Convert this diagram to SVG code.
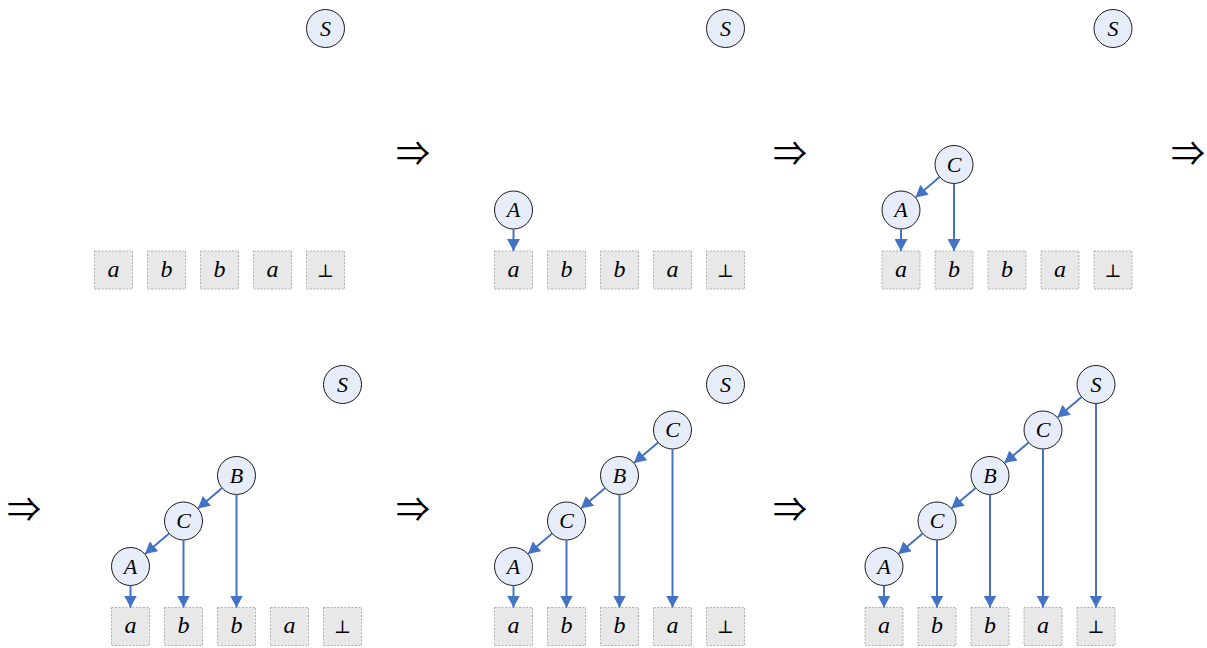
<svg xmlns="http://www.w3.org/2000/svg" width="1207" height="648" viewBox="0 0 1207 648">
  <defs>
    <style>
      .node circle { fill: #e7edf8; stroke: #1a1a1a; stroke-width: 1; }
      .node text { font-family: "Liberation Serif", "Times New Roman", serif; font-style: italic; font-size: 22px; text-anchor: middle; fill: #000; }
      .tok rect { fill: #e8e8e8; stroke: #b0b0b0; stroke-width: 1; stroke-dasharray: 2 1.5; }
      .tok text { font-family: "Liberation Serif", "Times New Roman", serif; font-style: italic; font-size: 24px; text-anchor: middle; fill: #000; }
      .tok text.bot { font-style: normal; font-family: "DejaVu Serif", "Liberation Serif", serif; font-size: 18px; }
      .edges line { stroke: #4472c4; stroke-width: 2; fill: none; marker-end: url(#head); }
      .step { font-family: "Noto Sans CJK JP", "DejaVu Serif", sans-serif; font-size: 34px; text-anchor: middle; fill: #000; }
    </style>
    <marker id="head" markerUnits="userSpaceOnUse" markerWidth="13" markerHeight="13" refX="12" refY="6.5" orient="auto">
      <path d="M0,0 L12,6.5 L0,13 Z" fill="#4472c4"/>
    </marker>
  </defs>

  <!-- derivation steps -->
  <g id="steps">
    <text class="step" x="413" y="166">⇒</text>
    <text class="step" x="790" y="166">⇒</text>
    <text class="step" x="1188" y="166">⇒</text>
    <text class="step" x="24" y="522">⇒</text>
    <text class="step" x="413" y="522">⇒</text>
    <text class="step" x="790" y="522">⇒</text>
  </g>

  <!-- ===== Step 1 ===== -->
  <g id="p1-S" class="node"><circle cx="325.5" cy="28.5" r="19"/><text x="325.5" y="35.5">S</text></g>
  <g id="p1-t1" class="tok"><rect x="94.5" y="251" width="38" height="38"/><text x="113.5" y="276.5">a</text></g>
  <g id="p1-t2" class="tok"><rect x="147.5" y="251" width="38" height="38"/><text x="166.5" y="276.5">b</text></g>
  <g id="p1-t3" class="tok"><rect x="200.5" y="251" width="38" height="38"/><text x="219.5" y="276.5">b</text></g>
  <g id="p1-t4" class="tok"><rect x="253.5" y="251" width="38" height="38"/><text x="272.5" y="276.5">a</text></g>
  <g id="p1-t5" class="tok"><rect x="306.5" y="251" width="38" height="38"/><text class="bot" x="325.5" y="276.5">⊥</text></g>

  <!-- ===== Step 2 ===== -->
  <g id="p2-S" class="node"><circle cx="725.5" cy="28.5" r="19"/><text x="725.5" y="35.5">S</text></g>
  <g id="p2-A" class="node"><circle cx="513.5" cy="210" r="19"/><text x="513.5" y="217">A</text></g>
  <g id="p2-t1" class="tok"><rect x="494.5" y="251" width="38" height="38"/><text x="513.5" y="276.5">a</text></g>
  <g id="p2-t2" class="tok"><rect x="547.5" y="251" width="38" height="38"/><text x="566.5" y="276.5">b</text></g>
  <g id="p2-t3" class="tok"><rect x="600.5" y="251" width="38" height="38"/><text x="619.5" y="276.5">b</text></g>
  <g id="p2-t4" class="tok"><rect x="653.5" y="251" width="38" height="38"/><text x="672.5" y="276.5">a</text></g>
  <g id="p2-t5" class="tok"><rect x="706.5" y="251" width="38" height="38"/><text class="bot" x="725.5" y="276.5">⊥</text></g>

  <!-- ===== Step 3 ===== -->
  <g id="p3-S" class="node"><circle cx="1113" cy="28.5" r="19"/><text x="1113" y="35.5">S</text></g>
  <g id="p3-C" class="node"><circle cx="954" cy="164.5" r="19"/><text x="954" y="171.5">C</text></g>
  <g id="p3-A" class="node"><circle cx="901" cy="210" r="19"/><text x="901" y="217">A</text></g>
  <g id="p3-t1" class="tok"><rect x="882" y="251" width="38" height="38"/><text x="901" y="276.5">a</text></g>
  <g id="p3-t2" class="tok"><rect x="935" y="251" width="38" height="38"/><text x="954" y="276.5">b</text></g>
  <g id="p3-t3" class="tok"><rect x="988" y="251" width="38" height="38"/><text x="1007" y="276.5">b</text></g>
  <g id="p3-t4" class="tok"><rect x="1041" y="251" width="38" height="38"/><text x="1060" y="276.5">a</text></g>
  <g id="p3-t5" class="tok"><rect x="1094" y="251" width="38" height="38"/><text class="bot" x="1113" y="276.5">⊥</text></g>

  <!-- ===== Step 4 ===== -->
  <g id="p4-S" class="node"><circle cx="342.5" cy="384.5" r="19"/><text x="342.5" y="391.5">S</text></g>
  <g id="p4-B" class="node"><circle cx="236.5" cy="475.5" r="19"/><text x="236.5" y="482.5">B</text></g>
  <g id="p4-C" class="node"><circle cx="183.5" cy="521" r="19"/><text x="183.5" y="528">C</text></g>
  <g id="p4-A" class="node"><circle cx="130.5" cy="566.5" r="19"/><text x="130.5" y="573.5">A</text></g>
  <g id="p4-t1" class="tok"><rect x="111.5" y="607.5" width="38" height="38"/><text x="130.5" y="633">a</text></g>
  <g id="p4-t2" class="tok"><rect x="164.5" y="607.5" width="38" height="38"/><text x="183.5" y="633">b</text></g>
  <g id="p4-t3" class="tok"><rect x="217.5" y="607.5" width="38" height="38"/><text x="236.5" y="633">b</text></g>
  <g id="p4-t4" class="tok"><rect x="270.5" y="607.5" width="38" height="38"/><text x="289.5" y="633">a</text></g>
  <g id="p4-t5" class="tok"><rect x="323.5" y="607.5" width="38" height="38"/><text class="bot" x="342.5" y="633">⊥</text></g>

  <!-- ===== Step 5 ===== -->
  <g id="p5-S" class="node"><circle cx="725.5" cy="384.5" r="19"/><text x="725.5" y="391.5">S</text></g>
  <g id="p5-C2" class="node"><circle cx="672.5" cy="430" r="19"/><text x="672.5" y="437">C</text></g>
  <g id="p5-B" class="node"><circle cx="619.5" cy="475.5" r="19"/><text x="619.5" y="482.5">B</text></g>
  <g id="p5-C1" class="node"><circle cx="566.5" cy="521" r="19"/><text x="566.5" y="528">C</text></g>
  <g id="p5-A" class="node"><circle cx="513.5" cy="566.5" r="19"/><text x="513.5" y="573.5">A</text></g>
  <g id="p5-t1" class="tok"><rect x="494.5" y="607.5" width="38" height="38"/><text x="513.5" y="633">a</text></g>
  <g id="p5-t2" class="tok"><rect x="547.5" y="607.5" width="38" height="38"/><text x="566.5" y="633">b</text></g>
  <g id="p5-t3" class="tok"><rect x="600.5" y="607.5" width="38" height="38"/><text x="619.5" y="633">b</text></g>
  <g id="p5-t4" class="tok"><rect x="653.5" y="607.5" width="38" height="38"/><text x="672.5" y="633">a</text></g>
  <g id="p5-t5" class="tok"><rect x="706.5" y="607.5" width="38" height="38"/><text class="bot" x="725.5" y="633">⊥</text></g>

  <!-- ===== Step 6 ===== -->
  <g id="p6-S" class="node"><circle cx="1096" cy="384.5" r="19"/><text x="1096" y="391.5">S</text></g>
  <g id="p6-C2" class="node"><circle cx="1043" cy="430" r="19"/><text x="1043" y="437">C</text></g>
  <g id="p6-B" class="node"><circle cx="990" cy="475.5" r="19"/><text x="990" y="482.5">B</text></g>
  <g id="p6-C1" class="node"><circle cx="937" cy="521" r="19"/><text x="937" y="528">C</text></g>
  <g id="p6-A" class="node"><circle cx="884" cy="566.5" r="19"/><text x="884" y="573.5">A</text></g>
  <g id="p6-t1" class="tok"><rect x="865" y="607.5" width="38" height="38"/><text x="884" y="633">a</text></g>
  <g id="p6-t2" class="tok"><rect x="918" y="607.5" width="38" height="38"/><text x="937" y="633">b</text></g>
  <g id="p6-t3" class="tok"><rect x="971" y="607.5" width="38" height="38"/><text x="990" y="633">b</text></g>
  <g id="p6-t4" class="tok"><rect x="1024" y="607.5" width="38" height="38"/><text x="1043" y="633">a</text></g>
  <g id="p6-t5" class="tok"><rect x="1077" y="607.5" width="38" height="38"/><text class="bot" x="1096" y="633">⊥</text></g>

  <!-- connectors: diagonal edges run centre-to-centre, trimmed by r=19
       (unit step 53,45.5 -> offset 14.4,12.4) -->
  <g id="connectors" class="edges">
    <!-- step 2 -->
    <line x1="513.5" y1="229" x2="513.5" y2="251"/>
    <!-- step 3 -->
    <line x1="939.6" y1="176.9" x2="915.4" y2="197.6"/>
    <line x1="901" y1="229" x2="901" y2="251"/>
    <line x1="954" y1="183.5" x2="954" y2="251"/>
    <!-- step 4 -->
    <line x1="222.1" y1="487.9" x2="197.9" y2="508.6"/>
    <line x1="169.1" y1="533.4" x2="144.9" y2="554.1"/>
    <line x1="130.5" y1="585.5" x2="130.5" y2="607.5"/>
    <line x1="183.5" y1="540" x2="183.5" y2="607.5"/>
    <line x1="236.5" y1="494.5" x2="236.5" y2="607.5"/>
    <!-- step 5 -->
    <line x1="658.1" y1="442.4" x2="633.9" y2="463.1"/>
    <line x1="605.1" y1="487.9" x2="580.9" y2="508.6"/>
    <line x1="552.1" y1="533.4" x2="527.9" y2="554.1"/>
    <line x1="513.5" y1="585.5" x2="513.5" y2="607.5"/>
    <line x1="566.5" y1="540" x2="566.5" y2="607.5"/>
    <line x1="619.5" y1="494.5" x2="619.5" y2="607.5"/>
    <line x1="672.5" y1="449" x2="672.5" y2="607.5"/>
    <!-- step 6 -->
    <line x1="1081.6" y1="396.9" x2="1057.4" y2="417.6"/>
    <line x1="1028.6" y1="442.4" x2="1004.4" y2="463.1"/>
    <line x1="975.6" y1="487.9" x2="951.4" y2="508.6"/>
    <line x1="922.6" y1="533.4" x2="898.4" y2="554.1"/>
    <line x1="884" y1="585.5" x2="884" y2="607.5"/>
    <line x1="937" y1="540" x2="937" y2="607.5"/>
    <line x1="990" y1="494.5" x2="990" y2="607.5"/>
    <line x1="1043" y1="449" x2="1043" y2="607.5"/>
    <line x1="1096" y1="403.5" x2="1096" y2="607.5"/>
  </g>
</svg>
